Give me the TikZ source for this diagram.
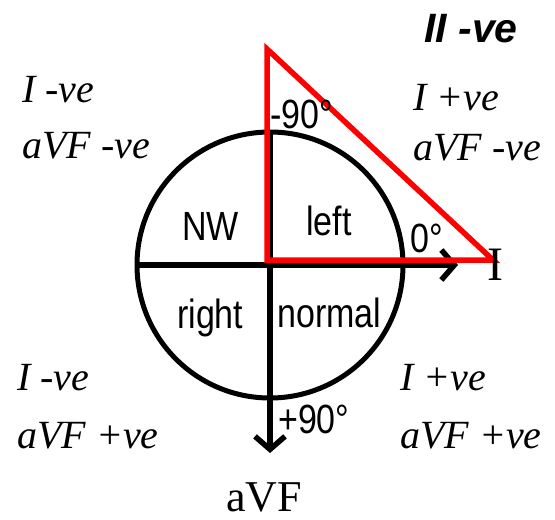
\documentclass[tikz,border=0pt]{standalone}
\usepackage{fontspec}
\usepackage{graphicx}
\setmainfont{Liberation Serif}
\setsansfont{Liberation Sans}
\usetikzlibrary{arrows.meta}
\tikzset{
  lbl/.style={inner sep=0pt, anchor=base west, font=\fontsize{40}{40}\selectfont\itshape},
  quad/.style={inner sep=0pt, anchor=base west, font=\fontsize{34}{34}\selectfont\sffamily},
  axis/.style={line width=5.5pt, -{Straight Barb[length=13pt,width=30pt]}},
  ring/.style={line width=5pt},
  vec/.style={line width=5.5pt, red, line join=miter}
}
\newcommand{\tallsans}[1]{\scalebox{1}[1.2]{#1}}
\begin{document}
\begin{tikzpicture}[x=1pt,y=-1pt]
\useasboundingbox (0,0) rectangle (555,520);
% geometry
\coordinate (O) at (270,265);
\coordinate (Lft) at (137,265);
\coordinate (Rtip) at (458,265);
\coordinate (Top) at (270,132);
\coordinate (Btip) at (270,453);
\coordinate (A) at (267,49);
\coordinate (B) at (267,260);
\coordinate (C) at (493,260);
\draw[ring] (O) circle[radius=133];
\draw[axis] (Lft) -- (Rtip);
\draw[axis] (Top) -- (Btip);
\draw[vec] (A) -- (B) -- (C) -- cycle;
% quadrant labels
\node[quad] (nw) at (182,240) {\tallsans{NW}};
\node[quad] (left) at (306,235) {\tallsans{left}};
\node[quad] (right) at (177,328) {\tallsans{right}};
\node[quad] (normal) at (277,327) {\tallsans{normal}};
% angle labels
\node[quad] (zero) at (410,252) {\tallsans{0°}};
\node[quad] (m90) at (270,128) {\tallsans{-90°}};
\node[quad] (p90) at (278,433) {\tallsans{+90°}};
% axis names
\node[inner sep=0pt, anchor=base, font=\fontsize{48}{48}\selectfont] (I) at (495,280) {I};
\node[inner sep=0pt, anchor=base west, font=\fontsize{44}{44}\selectfont] (aVF) at (226,511) {aVF};
\node[inner sep=0pt, anchor=base west, font=\fontsize{41}{41}\selectfont\sffamily\bfseries\itshape] (II) at (424,42) {II -ve};
% corner labels
\node[lbl] (tl1) at (22,102) {I -ve};
\node[lbl] (tl2) at (22,158) {aVF -ve};
\node[lbl] (tr1) at (413,110) {I +ve};
\node[lbl] (tr2) at (413,160) {aVF -ve};
\node[lbl] (bl1) at (17,390) {I -ve};
\node[lbl] (bl2) at (17,448) {aVF +ve};
\node[lbl] (br1) at (400,390) {I +ve};
\node[lbl] (br2) at (400,448) {aVF +ve};
\end{tikzpicture}
\end{document}
